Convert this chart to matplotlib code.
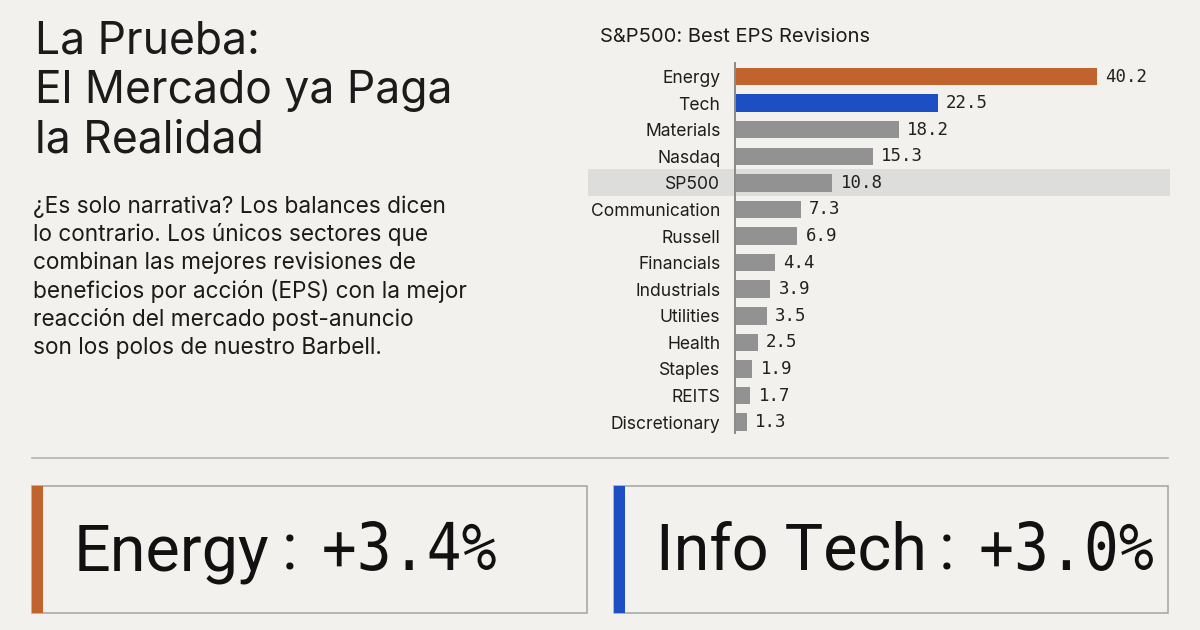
import matplotlib
matplotlib.use("Agg")
import matplotlib.pyplot as plt
from matplotlib.patches import Rectangle, PathPatch
from matplotlib.lines import Line2D
from matplotlib.textpath import TextPath
from matplotlib.font_manager import FontProperties
from matplotlib.transforms import Affine2D, blended_transform_factory

# data
categories = ["Energy", "Tech", "Materials", "Nasdaq", "SP500", "Communication",
              "Russell", "Financials", "Industrials", "Utilities", "Health",
              "Staples", "REITS", "Discretionary"]
eps_revisions = [40.2, 22.5, 18.2, 15.3, 10.8, 7.3, 6.9, 4.4, 3.9, 3.5, 2.5, 1.9, 1.7, 1.3]
highlight_row = "SP500"

card_labels = ["Energy", "Info Tech"]
card_values = ["+3.4%", "+3.0%"]

title_lines = ["La Prueba:", "El Mercado ya Paga", "la Realidad"]
body_lines = [
    "¿Es solo narrativa? Los balances dicen",
    "lo contrario. Los únicos sectores que",
    "combinan las mejores revisiones de",
    "beneficios por acción (EPS) con la mejor",
    "reacción del mercado post-anuncio",
    "son los polos de nuestro Barbell.",
]

# style
BG = "#f2f1ed"
INK = "#1b1b1b"
ORANGE = "#c0632d"
BLUE = "#1d4ec4"
GRAY = "#929292"
BAND = "#dddddb"
SANS = ["Inter", "DejaVu Sans"]
MONO = "DejaVu Sans Mono"
W, H = 1200, 630
bar_colors = {"Energy": ORANGE, "Tech": BLUE}
card_colors = [ORANGE, BLUE]

plt.rcParams["font.family"] = SANS

fig = plt.figure(figsize=(W / 100, H / 100), dpi=100, facecolor=BG)


def fx(x):
    return x / W


def fy(y):
    return 1 - y / H


# left header + body text
for i, line in enumerate(title_lines):
    fig.text(fx(35), fy(53.3 + i * 49.7), line, fontsize=32, color=INK,
             va="baseline", ha="left")
for i, line in enumerate(body_lines):
    fig.text(fx(33), fy(212.7 + i * 28.3), line, fontsize=16.3, color=INK,
             va="baseline", ha="left")

# bar chart
fig.text(fx(600), fy(42), "S&P500: Best EPS Revisions", fontsize=14.5,
         color=INK, va="baseline", ha="left")

ax = fig.add_axes([fx(735), fy(433), 435 / W, 370 / H])
ax.set_facecolor("none")
rows = list(range(len(categories)))
colors = [bar_colors.get(c, GRAY) for c in categories]
bars = ax.barh(rows, eps_revisions, height=0.66, color=colors, zorder=2)
ax.set_xlim(0, 48.3)
ax.set_ylim(13.41, -0.51)
ax.set_yticks(rows)
ax.set_yticklabels(categories, fontsize=12.6, color="#1e1e1e")
ax.tick_params(left=False, bottom=False, labelbottom=False, pad=7)
for s in ["top", "right", "bottom"]:
    ax.spines[s].set_visible(False)
ax.spines["left"].set_color("#8a8a8a")
ax.spines["left"].set_linewidth(1.4)
ax.spines["left"].set_zorder(3)

for rect, v in zip(bars, eps_revisions):
    ax.annotate(f"{v:.1f}", xy=(rect.get_width(), rect.get_y() + rect.get_height() / 2),
                xytext=(6, 0), textcoords="offset points", va="center", ha="left",
                fontsize=12.5, family=MONO, color="#222222")

hi = categories.index(highlight_row)
band_tr = blended_transform_factory(ax.transAxes, ax.transData)
ax.add_patch(Rectangle((-0.338, hi - 0.51), 1.338, 1.02, transform=band_tr,
                       facecolor=BAND, edgecolor="none", clip_on=False, zorder=0))

# divider
fig.add_artist(Line2D([fx(32), fx(1168)], [fy(457.7), fy(457.7)],
                      color="#b3b3b3", lw=1.2))

# cards
renderer = fig.canvas.get_renderer()
mono_prop = FontProperties(family=MONO)
card_left = [32, 614]
card_right = [587, 1168]
top, bottom = 486, 612.7
for lab, val, col, x0, x1 in zip(card_labels, card_values, card_colors, card_left, card_right):
    fig.add_artist(Rectangle((fx(x0), fy(bottom)), (x1 - x0) / W, (bottom - top) / H,
                             transform=fig.transFigure, facecolor="none",
                             edgecolor="#a3a3a3", lw=1.1))
    fig.add_artist(Rectangle((fx(x0), fy(bottom)), 11 / W, (bottom - top) / H,
                             transform=fig.transFigure, facecolor=col,
                             edgecolor="none"))
    t = fig.text(fx(x0 + 42), fy(570), lab, fontsize=46.5, color="#111111",
                 va="baseline", ha="left", family=["Roboto", "DejaVu Sans"])
    bb = t.get_window_extent(renderer)
    c = fig.text(bb.x1 / W + 12 / W, fy(570), ":", fontsize=46.5, color="#111111",
                 va="baseline", ha="left", family=["Roboto", "DejaVu Sans"])
    cb = c.get_window_extent(renderer)
    path = TextPath((0, 0), val, size=66, prop=mono_prop)
    ext = path.get_extents()
    sx = 0.88
    x_target = cb.x1 + 27
    tr = Affine2D().scale(sx, 1).translate(x_target - ext.x0 * sx, H - 570)
    fig.add_artist(PathPatch(path, transform=tr, facecolor="#111111",
                             edgecolor="none"))

fig.savefig("out.png", dpi=100, facecolor=BG)
